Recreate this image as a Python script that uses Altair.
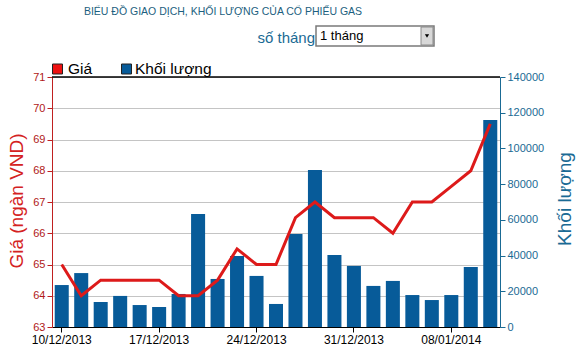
import altair as alt
import pandas as pd

dates = ["10/12/2013", "11/12/2013", "12/12/2013", "13/12/2013", "16/12/2013",
         "17/12/2013", "18/12/2013", "19/12/2013", "20/12/2013", "23/12/2013",
         "24/12/2013", "25/12/2013", "26/12/2013", "27/12/2013", "30/12/2013",
         "31/12/2013", "02/01/2014", "03/01/2014", "06/01/2014", "07/01/2014",
         "08/01/2014", "09/01/2014", "10/01/2014"]
price = [65.0, 64.0, 64.5, 64.5, 64.5, 64.5, 64.0, 64.0, 64.5, 65.5, 65.0, 65.0,
         66.5, 67.0, 66.5, 66.5, 66.5, 66.0, 67.0, 67.0, 67.5, 68.0, 69.5]
volume = [23500, 30200, 14000, 17400, 12300, 11200, 18500, 63300, 26900, 39800,
          28600, 12900, 52100, 87900, 40300, 34200, 23000, 25800, 17900, 15100,
          17900, 33600, 115900]
tick_dates = ["10/12/2013", "17/12/2013", "24/12/2013", "31/12/2013", "08/01/2014"]
price_ticks = [63, 64, 65, 66, 67, 68, 69, 70, 71]
vol_ticks = [0, 20000, 40000, 60000, 80000, 100000, 120000, 140000]

title_text = "BIỂU ĐỒ GIAO DỊCH, KHỐI LƯỢNG CỦA CỔ PHIẾU GAS"
left_title = "Giá (ngàn VND)"
right_title = "Khối lượng"
legend_labels = ["Giá", "Khối lượng"]

df = pd.DataFrame({"date": dates, "price": price, "volume": volume})

FONT = "Liberation Sans"
RED = "#dd1a1a"
BLUE = "#075b99"
TEAL = "#1a6a94"

x_enc = alt.X("date:O", sort=dates,
              scale=alt.Scale(paddingInner=0.28, paddingOuter=0.14),
              axis=alt.Axis(values=tick_dates, labelAngle=0, title=None,
                            domainColor="#000000", tickColor="#000000",
                            labelColor="#000000", labelFont=FONT, labelFontSize=12,
                            tickSize=5, labelPadding=2))

bars = alt.Chart(df).mark_bar(color=BLUE).encode(
    x=x_enc,
    y=alt.Y("volume:Q", scale=alt.Scale(domain=[0, 140000], nice=False),
            axis=alt.Axis(orient="right", values=vol_ticks, format="d", title=None,
                          grid=False, domainColor=TEAL, tickColor=TEAL,
                          labelColor=TEAL, labelFont=FONT, labelFontSize=11,
                          tickSize=5, labelPadding=2)),
)

line = alt.Chart(df).mark_line(color=RED, strokeWidth=3).encode(
    x=alt.X("date:O", sort=dates),
    y=alt.Y("price:Q", scale=alt.Scale(domain=[63, 71], nice=False, zero=False),
            axis=alt.Axis(orient="left", values=price_ticks, title=None,
                          grid=True, gridColor="#c4c4c4", domainColor="#c02020",
                          tickColor="#c02020", labelColor="#b01818",
                          labelFont=FONT, labelFontSize=11, tickSize=5,
                          labelPadding=2)),
)

one = alt.Data(values=[{"a": 1}])

top_border = alt.Chart(one).mark_rule(color="#000000", strokeWidth=1.5).encode(
    x=alt.value(0), x2=alt.value(448), y=alt.value(0))

title = alt.Chart(one).mark_text(text=title_text, font=FONT, fontSize=10.5,
                                 color="#1c5f80", align="center",
                                 baseline="middle").encode(
    x=alt.value(171), y=alt.value(-65))

so_thang = alt.Chart(one).mark_text(text="số tháng", font=FONT, fontSize=15,
                                    color=TEAL, align="right",
                                    baseline="alphabetic").encode(
    x=alt.value(263), y=alt.value(-34))

box = alt.Chart(one).mark_rect(fill="#ffffff", stroke="#7a7a7a",
                               strokeWidth=1.5).encode(
    x=alt.value(264), x2=alt.value(382), y=alt.value(-51), y2=alt.value(-31))
box_text = alt.Chart(one).mark_text(text="1 tháng", font=FONT, fontSize=13,
                                    color="#000000", align="left",
                                    baseline="middle").encode(
    x=alt.value(268), y=alt.value(-41))
btn = alt.Chart(one).mark_rect(fill="#d8d8d8", stroke="#8a8a8a",
                               strokeWidth=1).encode(
    x=alt.value(369), x2=alt.value(381), y=alt.value(-50), y2=alt.value(-32))
btn_arrow = alt.Chart(one).mark_point(shape="triangle-down", filled=True,
                                      color="#000000", size=18,
                                      opacity=1).encode(
    x=alt.value(375), y=alt.value(-41))

leg_red = alt.Chart(one).mark_rect(fill="#ee1111", stroke="#222222",
                                   strokeWidth=1).encode(
    x=alt.value(0.5), x2=alt.value(10.5), y=alt.value(-13), y2=alt.value(-3))
leg_red_t = alt.Chart(one).mark_text(text=legend_labels[0], font=FONT, fontSize=15.5,
                                     color="#000000", align="left",
                                     baseline="alphabetic").encode(
    x=alt.value(16), y=alt.value(-3))
leg_blue = alt.Chart(one).mark_rect(fill=BLUE, stroke="#222222",
                                    strokeWidth=1).encode(
    x=alt.value(69.5), x2=alt.value(79.5), y=alt.value(-13), y2=alt.value(-3))
leg_blue_t = alt.Chart(one).mark_text(text=legend_labels[1], font=FONT,
                                      fontSize=15.5, color="#000000", align="left",
                                      baseline="alphabetic").encode(
    x=alt.value(83), y=alt.value(-3))

ltitle = alt.Chart(one).mark_text(text=left_title, font=FONT, fontSize=19,
                                  color="#d42222", angle=270, align="center",
                                  baseline="middle").encode(
    x=alt.value(-35), y=alt.value(124))
rtitle = alt.Chart(one).mark_text(text=right_title, font=FONT, fontSize=19,
                                  color=TEAL, angle=270, align="center",
                                  baseline="middle").encode(
    x=alt.value(513), y=alt.value(122))

main = alt.layer(bars, line).resolve_scale(y="independent")

chart = alt.layer(
    main, top_border, title, so_thang, box, box_text, btn, btn_arrow,
    leg_red, leg_red_t, leg_blue, leg_blue_t, ltitle, rtitle
).properties(
    width=448, height=250,
    autosize=alt.AutoSizeParams(type="none"),
    padding={"left": 52, "top": 77, "right": 87, "bottom": 25},
    background="#ffffff",
).configure_view(stroke=None)

chart.save("out.html", embed_options={"renderer": "svg", "actions": False})
